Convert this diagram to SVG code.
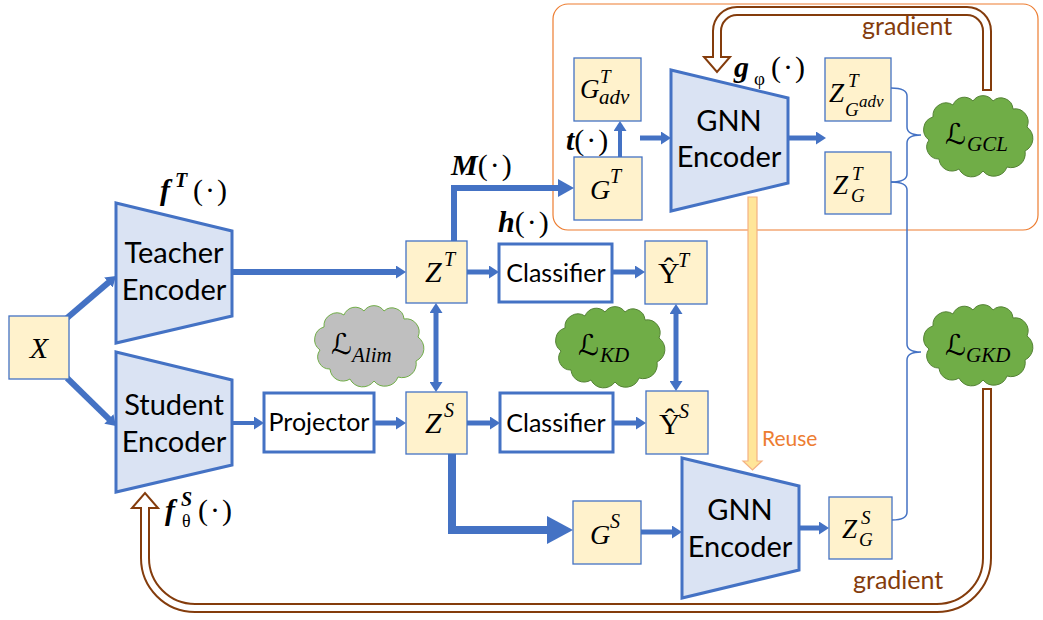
<svg xmlns="http://www.w3.org/2000/svg" xmlns:xlink="http://www.w3.org/1999/xlink" width="1043" height="620" viewBox="0 0 1043 620">
<style>
.box{fill:#fff2cc;stroke:#4472c4;stroke-width:1.3}
.enc{fill:#dae3f3;stroke:#4472c4;stroke-width:3;stroke-linejoin:miter}
.cls{fill:#fff;stroke:#4472c4;stroke-width:3}
.t{font-family:Lato,"Liberation Sans",sans-serif;fill:#000}
.m{font-family:"Liberation Serif","DejaVu Serif",serif;font-style:italic;fill:#000}
.up{font-style:normal}
.b{font-weight:bold}
.L{font-family:"DejaVu Serif","DejaVu Sans",serif;font-style:normal}
.c{stroke:#4472c4;fill:none}
.br{stroke:#4472c4;fill:none;stroke-width:1.5}
.gr{stroke:#843c0c;fill:none;stroke-width:10}
.gw{stroke:#fff;fill:none;stroke-width:6}
.gh{fill:#fff;stroke:#843c0c;stroke-width:2}
.gt{font-family:Lato,"Liberation Sans",sans-serif;fill:#843c0c;font-size:25px}
.green{fill:#70ad47;stroke:#548235;stroke-width:1}
.gray{fill:#bfbfbf;stroke:#70ad47;stroke-width:1}
</style>
<defs>
<marker id="a1" markerUnits="userSpaceOnUse" markerWidth="10" markerHeight="13" viewBox="0 0 10 13" refX="1" refY="6.5" orient="auto-start-reverse"><path d="M0,0 L10,6.5 L0,13 Z" fill="#4472c4"/></marker>
<marker id="a2" markerUnits="userSpaceOnUse" markerWidth="16" markerHeight="18" viewBox="0 0 16 18" refX="1" refY="9" orient="auto"><path d="M0,0 L16,9 L0,18 Z" fill="#4472c4"/></marker>
<marker id="a3" markerUnits="userSpaceOnUse" markerWidth="26" markerHeight="28" viewBox="0 0 26 28" refX="1" refY="14" orient="auto"><path d="M0,0 L26,14 L0,28 Z" fill="#4472c4"/></marker>
<path id="cloud" d="M8,45 A13,13 0 0 1 12,22 A13,13 0 0 1 32,10 A12,12 0 0 1 52,6 A12,12 0 0 1 72,6 A12,12 0 0 1 92,14 A13,13 0 0 1 106,32 A14,14 0 0 1 104,56 A14,14 0 0 1 86,72 A14,14 0 0 1 62,76 A14,14 0 0 1 38,74 A13,13 0 0 1 18,64 A12,12 0 0 1 8,45 Z"/>
</defs>

<rect id="teacher-region" x="553" y="4" width="485" height="226" rx="15" fill="none" stroke="#ed7d31" stroke-width="1.2"/>

<g id="connectors">
<line class="c" stroke-width="6" x1="67" y1="318" x2="109.2" y2="281.9" marker-end="url(#a1)"/>
<line class="c" stroke-width="6" x1="67" y1="378" x2="109.6" y2="419.7" marker-end="url(#a1)"/>
<line class="c" stroke-width="6" x1="232" y1="272" x2="397" y2="272" marker-end="url(#a1)"/>
<line class="c" stroke-width="5" x1="467" y1="272" x2="490" y2="272" marker-end="url(#a1)"/>
<line class="c" stroke-width="5" x1="612" y1="272" x2="636" y2="272" marker-end="url(#a1)"/>
<line class="c" stroke-width="4" x1="232" y1="423" x2="255" y2="423" marker-end="url(#a1)"/>
<line class="c" stroke-width="5" x1="374" y1="423" x2="397" y2="423" marker-end="url(#a1)"/>
<line class="c" stroke-width="5" x1="467" y1="423" x2="491" y2="423" marker-end="url(#a1)"/>
<line class="c" stroke-width="5" x1="613" y1="423" x2="637" y2="423" marker-end="url(#a1)"/>
<line class="c" stroke-width="5" x1="436" y1="312" x2="436" y2="383" marker-start="url(#a1)" marker-end="url(#a1)"/>
<line class="c" stroke-width="5" x1="676" y1="313" x2="676" y2="382" marker-start="url(#a1)" marker-end="url(#a1)"/>
<path class="c" stroke-width="6" d="M454,241 V188 H559" marker-end="url(#a2)"/>
<line class="c" stroke-width="4" x1="620" y1="157" x2="620" y2="130" marker-end="url(#a1)"/>
<line class="c" stroke-width="5" x1="640" y1="138" x2="662" y2="138" marker-end="url(#a1)"/>
<line class="c" stroke-width="5" x1="788" y1="138" x2="817" y2="138" marker-end="url(#a1)"/>
<path class="c" stroke-width="8" d="M452,454 V530 H548" marker-end="url(#a3)"/>
<line class="c" stroke-width="5" x1="641" y1="532" x2="673" y2="532" marker-end="url(#a1)"/>
<line class="c" stroke-width="5" x1="799" y1="528" x2="820" y2="528" marker-end="url(#a1)"/>
<path class="br" d="M891,88 Q907,88 907,96 V127 Q907,135 921,135 Q907,135 907,143 V174 Q907,182 891,182"/>
<path class="br" d="M891,182 Q907,182 907,190 V344 Q907,352 921,352 Q907,352 907,360 V512 Q907,520 892,520"/>
<path d="M748,197 H757 V461 H762 L752.5,470 L743,461 H748 Z" fill="#ffe699" stroke="#f4b183" stroke-width="1.2"/>
<text class="t" x="762" y="446" font-size="21" style="fill:#ed7d31">Reuse</text>
<path class="gr" d="M987,91 V31 A20,20 0 0 0 967,11 H737 A20,20 0 0 0 717,31 V57"/>
<polygon class="gh" points="704,57 730,57 717,72"/>
<path class="gw" d="M987,89 V31 A20,20 0 0 0 967,11 H737 A20,20 0 0 0 717,31 V59"/>
<text class="gt" x="862" y="35">gradient</text>
<path class="gr" d="M987,388 V558 A50,50 0 0 1 937,608 H195 A50,50 0 0 1 145,558 V508"/>
<polygon class="gh" points="132,508 158,508 145,493"/>
<path class="gw" d="M987,390 V558 A50,50 0 0 1 937,608 H195 A50,50 0 0 1 145,558 V506"/>
<text class="gt" x="853" y="589">gradient</text>
</g>

<g id="X"><rect class="box" x="9" y="316" width="60" height="63"/><text class="m" x="39" y="358" font-size="30" text-anchor="middle">X</text></g>

<g id="teacher-encoder">
<polygon class="enc" points="116,203 232,231 232,316 116,343"/>
<text class="t" x="174" y="263" font-size="29" text-anchor="middle">Teacher</text>
<text class="t" x="174" y="300" font-size="29" text-anchor="middle">Encoder</text>
<text class="m b" x="160" y="200" font-size="30">f<tspan x="175" y="187" font-size="20">T</tspan><tspan class="up" x="193" y="200" font-weight="normal" letter-spacing="2">(·)</tspan></text>
</g>

<g id="student-encoder">
<polygon class="enc" points="116,352 232,380 232,465 116,492"/>
<text class="t" x="174" y="415" font-size="29" text-anchor="middle">Student</text>
<text class="t" x="174" y="452" font-size="29" text-anchor="middle">Encoder</text>
<text class="m b" x="165" y="520" font-size="30">f<tspan x="181" y="506" font-size="20">S</tspan><tspan class="up" x="182" y="527" font-size="18" font-weight="normal">θ</tspan><tspan class="up" x="198" y="520" font-weight="normal" letter-spacing="2">(·)</tspan></text>
</g>

<g id="projector"><rect class="cls" x="264" y="393" width="110" height="59"/><text class="t" x="319" y="431" font-size="25" text-anchor="middle">Projector</text></g>

<g id="ZT"><rect class="box" x="406" y="241" width="61" height="62"/><text class="m" font-size="30"><tspan x="425" y="282">Z</tspan><tspan x="444" y="266" font-size="20">T</tspan></text></g>
<g id="ZS"><rect class="box" x="406" y="392" width="61" height="62"/><text class="m" font-size="30"><tspan x="425" y="433">Z</tspan><tspan x="444" y="417" font-size="20">S</tspan></text></g>

<g id="label-M"><text class="m b" x="451" y="175" font-size="30">M<tspan class="up" font-weight="normal" letter-spacing="2">(·)</tspan></text></g>
<g id="label-h"><text class="m b" x="498" y="232" font-size="30">h<tspan class="up" font-weight="normal" letter-spacing="2">(·)</tspan></text></g>

<g id="classifier-T"><rect class="cls" x="499" y="244" width="113" height="58"/><text class="t" x="556" y="282" font-size="25" text-anchor="middle">Classifier</text></g>
<g id="classifier-S"><rect class="cls" x="500" y="393" width="113" height="59"/><text class="t" x="556" y="432" font-size="25" text-anchor="middle">Classifier</text></g>

<g id="YT"><rect class="box" x="645" y="241" width="62" height="63"/><text class="m" font-size="30"><tspan class="up" x="658" y="283">Ŷ</tspan><tspan x="678" y="267" font-size="20">T</tspan></text></g>
<g id="YS"><rect class="box" x="646" y="391" width="62" height="63"/><text class="m" font-size="30"><tspan class="up" x="659" y="434">Ŷ</tspan><tspan x="679" y="418" font-size="20">S</tspan></text></g>

<g id="L-Alim"><use href="#cloud" xlink:href="#cloud" class="gray" transform="translate(312,305)"/><text class="m" font-size="21"><tspan class="L" x="331" y="354" font-size="29">ℒ</tspan><tspan x="352" y="362">Alim</tspan></text></g>
<g id="L-KD"><use href="#cloud" xlink:href="#cloud" class="green" transform="translate(553,306)"/><text class="m" font-size="21"><tspan class="L" x="578" y="355" font-size="29">ℒ</tspan><tspan x="600" y="362">KD</tspan></text></g>

<g id="GT"><rect class="box" x="574" y="157" width="68" height="63"/><text class="m" font-size="28"><tspan x="590" y="199">G</tspan><tspan x="610" y="183" font-size="20">T</tspan></text></g>
<g id="GTadv"><rect class="box" x="574" y="58" width="67" height="63"/><text class="m" font-size="27"><tspan x="580" y="98">G</tspan><tspan x="600" y="83" font-size="19">T</tspan><tspan x="599" y="104" font-size="21">adv</tspan></text></g>
<g id="label-t"><text class="m b" x="566" y="150" font-size="30">t<tspan class="up" font-weight="normal" letter-spacing="2">(·)</tspan></text></g>

<g id="GNN-teacher">
<polygon class="enc" points="671,70 788,98 788,183 671,211"/>
<text class="t" x="729" y="131" font-size="29" text-anchor="middle">GNN</text>
<text class="t" x="729" y="167" font-size="29" text-anchor="middle">Encoder</text>
<text class="m b" x="734" y="77" font-size="30">g<tspan class="up" x="754" y="85" font-size="19" font-weight="normal">φ</tspan><tspan class="up" x="771" y="77" font-weight="normal" letter-spacing="2">(·)</tspan></text>
</g>

<g id="ZTGadv"><rect class="box" x="825" y="58" width="66" height="63"/><text class="m" font-size="27"><tspan x="829" y="102">Z</tspan><tspan x="848" y="87" font-size="19">T</tspan><tspan x="845" y="116" font-size="19">G</tspan><tspan x="859" y="107" font-size="17">adv</tspan></text></g>
<g id="ZTG"><rect class="box" x="825" y="152" width="66" height="62"/><text class="m" font-size="27"><tspan x="833" y="194">Z</tspan><tspan x="852" y="180" font-size="19">T</tspan><tspan x="851" y="202" font-size="19">G</tspan></text></g>

<g id="L-GCL"><use href="#cloud" xlink:href="#cloud" class="green" transform="translate(921,95)"/><text class="m" font-size="21"><tspan class="L" x="945" y="144" font-size="29">ℒ</tspan><tspan x="967" y="151">GCL</tspan></text></g>
<g id="L-GKD"><use href="#cloud" xlink:href="#cloud" class="green" transform="translate(921,304)"/><text class="m" font-size="21"><tspan class="L" x="945" y="355" font-size="29">ℒ</tspan><tspan x="966" y="362">GKD</tspan></text></g>

<g id="GS"><rect class="box" x="573" y="501" width="68" height="63"/><text class="m" font-size="28"><tspan x="590" y="544">G</tspan><tspan x="610" y="528" font-size="20">S</tspan></text></g>
<g id="GNN-student">
<polygon class="enc" points="682,458 799,486 799,570 682,598"/>
<text class="t" x="740" y="520" font-size="29" text-anchor="middle">GNN</text>
<text class="t" x="740" y="557" font-size="29" text-anchor="middle">Encoder</text>
</g>
<g id="ZSG"><rect class="box" x="829" y="497" width="63" height="62"/><text class="m" font-size="27"><tspan x="842" y="538">Z</tspan><tspan x="861" y="524" font-size="19">S</tspan><tspan x="859" y="546" font-size="19">G</tspan></text></g>
</svg>
